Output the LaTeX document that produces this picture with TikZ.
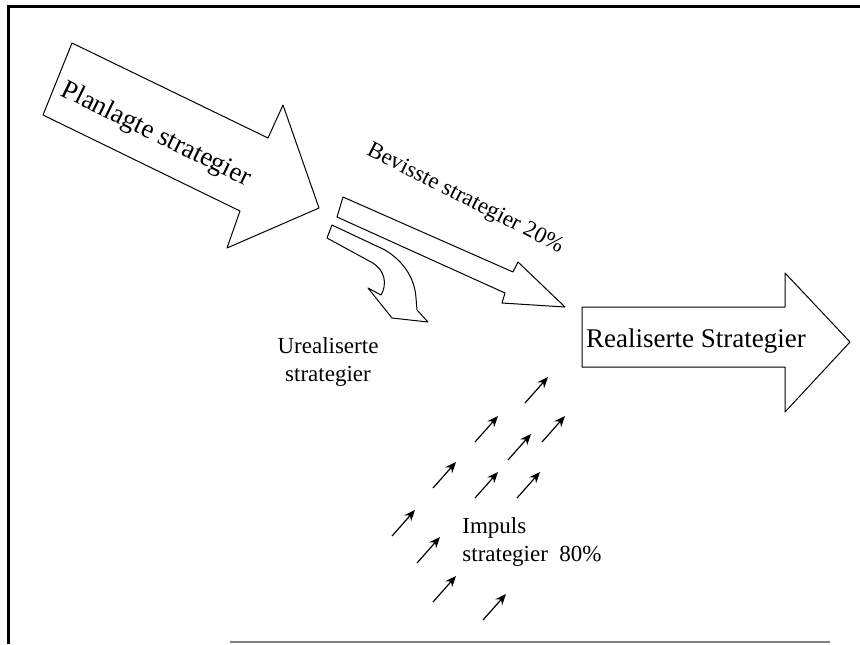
\documentclass[tikz,border=0pt]{standalone}
\usepackage{fontspec}
\setmainfont{Liberation Serif}
\usetikzlibrary{arrows.meta}

\tikzset{
  blockarrow/.style={draw,line width=0.5pt,fill=white,line join=round},
  impuls/.style={-{Stealth[length=5.5pt,width=4.5pt]},line width=0.6pt},
  bigtext/.style={font=\fontsize{13.5}{16}\selectfont,inner sep=0pt},
  smalltext/.style={font=\fontsize{11.5}{13.75}\selectfont,inner sep=0pt}
}

\begin{document}
\begin{tikzpicture}[x=0.5pt,y=-0.5pt]
\useasboundingbox (0,0) rectangle (860,644);

% Frame
\draw [line width=1.5pt] (8,644) -- (8,6) -- (860,6);
\draw [gray,line width=1pt] (230,642) -- (830,642);

% Planned
\draw [blockarrow] (72,43) -- (268,138) -- (283,105) -- (319,208) -- (227,248) -- (240,211) -- (43,115) -- cycle;
\node [bigtext,rotate=-26] (plan) at (156,135) {Planlagte strategier};

% Deliberate
\draw [blockarrow] (343,197) -- (513,272) -- (518,262) -- (565,307) -- (502,303) -- (505,293) -- (337,217) -- cycle;
\node [smalltext,rotate=-27] (bev) at (465,199) {Bevisste strategier 20\%};

% Unrealized (curved)
\draw [blockarrow] (332,225) -- (385,250) .. controls (405,262) and (415,280) .. (416,298) -- (417,310) -- (428,322) -- (392,318) -- (368,288) -- (381,295) .. controls (387,285) and (386,270) .. (371,262) -- (327,238) -- cycle;
\node [smalltext,align=center] (ureal) at (328,362) {Urealiserte\\strategier};

% Realized
\draw [blockarrow] (582,307) -- (785,307) -- (785,273) -- (850,342) -- (785,412) -- (785,367) -- (582,367) -- cycle;
\node [bigtext] (real) at (696,341) {Realiserte Strategier};

% Emergent
\foreach \x/\y in {525/403,475/442,542/442,508/460,433/488,475/498,517/498,392/536,417/563,433/602,483/620}
  \draw [impuls] (\x,\y) -- ++(23,-26);
\node [smalltext,align=left,anchor=west] (imp) at (462,542) {Impuls\\strategier~ 80\%};
\end{tikzpicture}
\end{document}
